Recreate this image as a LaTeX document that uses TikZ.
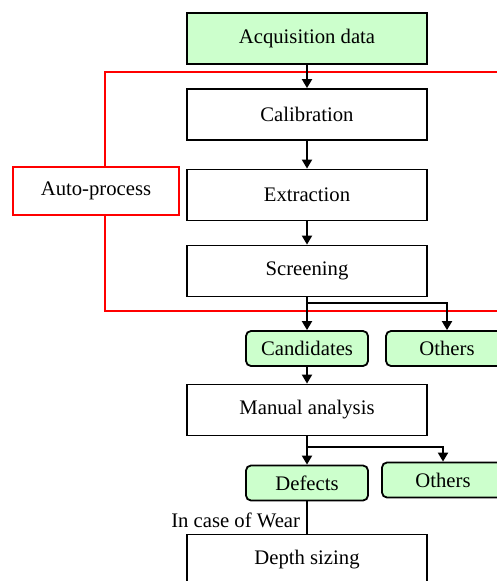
\documentclass[tikz,border=0pt]{standalone}
\usepackage{fontspec}
\setmainfont{Liberation Serif}
\usetikzlibrary{arrows.meta}
\definecolor{boxgreen}{HTML}{CCFFCC}
\tikzset{
  base/.style={draw=black, line width=1.8pt, inner sep=0pt, font=\fontsize{20.7}{24}\selectfont},
  proc/.style={base, minimum width=240pt, minimum height=51pt},
  greenproc/.style={proc, fill=boxgreen},
  result/.style={base, fill=boxgreen, rounded corners=5pt, minimum width=122pt, minimum height=35pt},
  autobox/.style={base, draw=red, minimum width=166pt, minimum height=48pt},
  conn/.style={line width=1.9pt, draw=black},
  arr/.style={conn, -{Triangle[width=10pt,length=9pt]}},
  redline/.style={line width=1.6pt, draw=red},
}
\begin{document}
\begin{tikzpicture}[x=1pt,y=-1pt]
\useasboundingbox (0,0) rectangle (497,581);
\clip (0,0) rectangle (497,581);
\fill[white] (0,0) rectangle (497,581);
% red frame
\coordinate (rt) at (510,72);
\coordinate (rb) at (510,311);
\node[autobox] (auto) at (96,191) {Auto-process};
\draw[redline] ([xshift=9pt]auto.north) |- (rt);
\draw[redline] ([xshift=9pt]auto.south) |- (rb);
% main chain
\node[greenproc] (acq) at (307,38.5) {Acquisition data};
\node[proc] (calib) at (307,114.5) {Calibration};
\node[proc] (extr) at (307,195) {Extraction};
\node[proc] (screen) at (307,271) {Screening};
\node[result] (cand) at (307,348.5) {Candidates};
\node[result] (oth1) at (447,348.5) {Others};
\node[proc] (manual) at (307,410) {Manual analysis};
\node[result] (defects) at (307,483) {Defects};
\node[result] (oth2) at (443,480) {Others};
\node[proc] (depth) at (307,560) {Depth sizing};
\draw[arr] (acq.south) -- (calib.north);
\draw[arr] (calib.south) -- (extr.north);
\draw[arr] (extr.south) -- (screen.north);
\draw[arr] (screen.south) -- (cand.north);
\draw[arr] (screen.south) -- ++(0,6) -| (oth1.north);
\draw[arr] (cand.south) -- (manual.north);
\draw[arr] (manual.south) -- (defects.north);
\draw[arr] (manual.south) -- ++(0,11) -| (oth2.north);
\draw[conn] (defects.south) -- (depth.north)
  node[pos=1, anchor=south east, inner sep=0pt, xshift=-6pt, yshift=5pt, font=\fontsize{20.7}{24}\selectfont] {In case of Wear};
\end{tikzpicture}
\end{document}
